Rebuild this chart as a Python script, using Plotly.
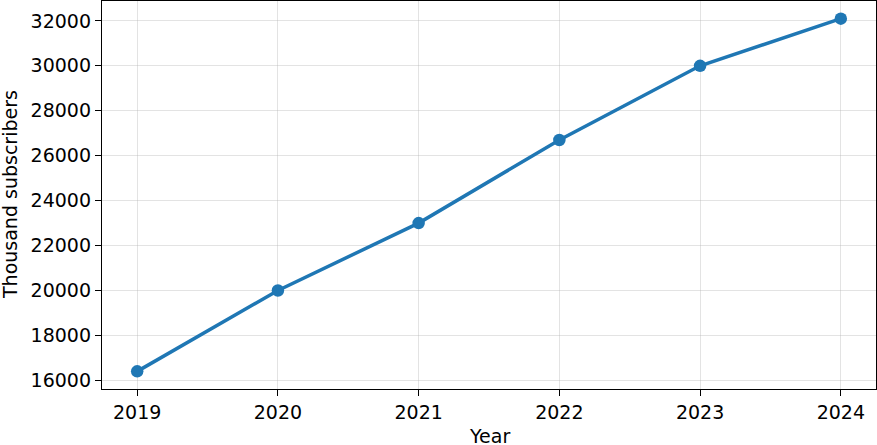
import plotly.graph_objects as go

years = [2019, 2020, 2021, 2022, 2023, 2024]
subscribers = [16400, 20000, 23000, 26700, 30000, 32100]
y_ticks = [16000, 18000, 20000, 22000, 24000, 26000, 28000, 30000, 32000]

fig = go.Figure()
fig.add_trace(go.Scatter(
    x=years, y=subscribers, mode="lines+markers",
    line=dict(color="#1f77b4", width=3.5),
    marker=dict(color="#1f77b4", size=12.5),
    showlegend=False,
))

font = dict(family="DejaVu Sans", size=19, color="#000000")
axis_common = dict(
    showline=True, linecolor="#000000", linewidth=1.3, mirror=True,
    ticks="outside", ticklen=6, tickwidth=1.3, tickcolor="#000000",
    showgrid=True, gridcolor="rgba(176,176,176,0.35)", gridwidth=1,
    zeroline=False, tickfont=font, automargin=False,
)
L, R, T, B = 102, 1, 1, 56
W, H = 877, 445
pw, ph = W - L - R, H - T - B
fig.update_layout(
    width=W, height=H,
    margin=dict(l=L, r=R, t=T, b=B),
    paper_bgcolor="white", plot_bgcolor="white",
    xaxis=dict(range=[2018.75, 2024.25], tickvals=years,
               ticktext=[str(y) for y in years], **axis_common),
    yaxis=dict(range=[15615, 32885], tickvals=y_ticks,
               ticktext=[str(v) for v in y_ticks], **axis_common),
    annotations=[
        dict(text="Year", xref="paper", yref="paper", x=0.5,
             y=-(436 - (T + ph)) / ph, xanchor="center", yanchor="middle",
             showarrow=False, font=font),
        dict(text="Thousand subscribers", xref="paper", yref="paper",
             x=(10 - L) / pw, y=0.5, xanchor="center", yanchor="middle",
             textangle=-90, showarrow=False, font=font),
    ],
)
fig.write_html(
    "out.html",
    config={"displayModeBar": False},
    post_script="document.body.style.margin='0';document.body.style.overflow='hidden';",
)
